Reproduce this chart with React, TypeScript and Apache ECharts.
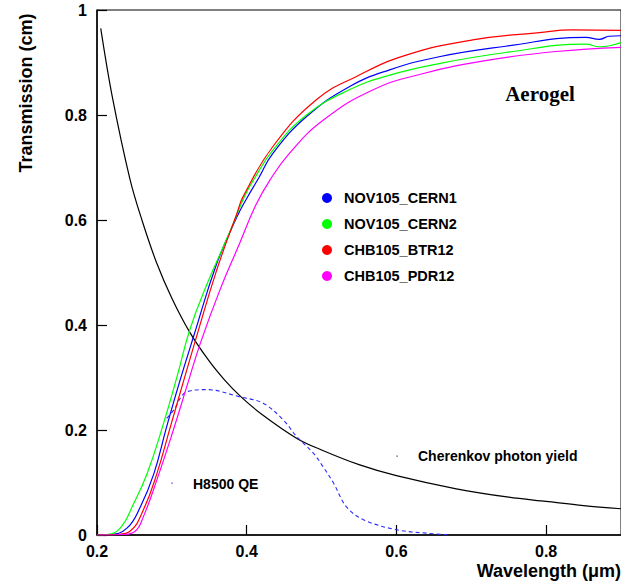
import React, { useEffect, useRef } from "react";
import * as echarts from "echarts";

// Aerogel transmission curves: [wavelength (um), transmission]
const nov105Cern1: [number, number][] = [
  [0.2, 0], [0.218, 0.001], [0.24, 0.013], [0.258, 0.054], [0.276, 0.117], [0.293, 0.206],
  [0.311, 0.295], [0.329, 0.378], [0.36, 0.517], [0.387, 0.606], [0.4, 0.641], [0.416, 0.68],
  [0.435, 0.727], [0.48, 0.797], [0.537, 0.854], [0.591, 0.886], [0.657, 0.911], [0.746, 0.931],
  [0.853, 0.948], [0.871, 0.944], [0.884, 0.95], [0.9, 0.951],
];
const nov105Cern2: [number, number][] = [
  [0.2, 0], [0.213, 0.001], [0.231, 0.013], [0.249, 0.06], [0.267, 0.117], [0.289, 0.213],
  [0.307, 0.302], [0.324, 0.391], [0.347, 0.478], [0.369, 0.55], [0.384, 0.6], [0.397, 0.645],
  [0.409, 0.676], [0.435, 0.733], [0.48, 0.8], [0.537, 0.848], [0.591, 0.876], [0.657, 0.898],
  [0.746, 0.919], [0.853, 0.935], [0.871, 0.93], [0.9, 0.938],
];
const chb105Btr12: [number, number][] = [
  [0.2, 0], [0.227, 0.001], [0.244, 0.007], [0.262, 0.048], [0.28, 0.117], [0.298, 0.206],
  [0.316, 0.295], [0.333, 0.378], [0.36, 0.505], [0.387, 0.613], [0.395, 0.644], [0.435, 0.74],
  [0.493, 0.829], [0.546, 0.873], [0.613, 0.914], [0.702, 0.943], [0.791, 0.957], [0.835, 0.962],
  [0.9, 0.961],
];
const chb105Pdr12: [number, number][] = [
  [0.2, 0], [0.236, 0.001], [0.251, 0.007], [0.262, 0.035], [0.28, 0.105], [0.302, 0.2],
  [0.32, 0.283], [0.338, 0.365], [0.364, 0.466], [0.391, 0.557], [0.412, 0.628], [0.431, 0.676],
  [0.457, 0.727], [0.502, 0.79], [0.569, 0.848], [0.636, 0.879], [0.725, 0.905], [0.813, 0.921],
  [0.9, 0.929],
];
// Cherenkov photon yield (arbitrary units)
const cherenkovYield: [number, number][] = [
  [0.205, 0.965], [0.22, 0.838], [0.244, 0.678], [0.26, 0.6], [0.28, 0.517], [0.3, 0.451],
  [0.324, 0.386], [0.35, 0.331], [0.37, 0.296], [0.391, 0.265], [0.42, 0.23], [0.467, 0.184],
  [0.5, 0.162], [0.55, 0.134], [0.6, 0.113], [0.68, 0.088], [0.75, 0.072], [0.8, 0.064],
  [0.85, 0.056], [0.9, 0.05],
];
// H8500 quantum efficiency
const h8500QE: [number, number][] = [
  [0.293, 0.222], [0.304, 0.241], [0.311, 0.26], [0.32, 0.273], [0.347, 0.277], [0.391, 0.263],
  [0.422, 0.251], [0.449, 0.219], [0.467, 0.187], [0.489, 0.156], [0.502, 0.13], [0.516, 0.099],
  [0.533, 0.054], [0.556, 0.029], [0.6, 0.01], [0.644, 0.003], [0.67, 0],
];

const legendNames = ["NOV105_CERN1", "NOV105_CERN2", "CHB105_BTR12", "CHB105_PDR12"];
const legendColors = ["#0000ff", "#00ff00", "#ff0000", "#ff00ff"];

const SANS = "'Liberation Sans', Arial, Helvetica, sans-serif";
const SERIF = "'Liberation Serif', 'Times New Roman', serif";

export default function App() {
  const ref = useRef<HTMLDivElement>(null);
  useEffect(() => {
    document.body.style.margin = "0";
    const chart = echarts.init(ref.current!, null, { renderer: "svg" });
    const curves = [nov105Cern1, nov105Cern2, chb105Btr12, chb105Pdr12];
    const colorSeries = curves.map((d, i) => ({
      name: legendNames[i],
      type: "line",
      data: d,
      showSymbol: false,
      smooth: 0.45,
      itemStyle: { color: legendColors[i] },
      lineStyle: { color: legendColors[i], width: 1.2 },
      z: 3,
    }));
    chart.setOption({
      animation: false,
      grid: {
        left: 97, top: 10, width: 525, height: 525,
        show: true, borderColor: "#000", borderWidth: 1, backgroundColor: "transparent",
      },
      xAxis: {
        type: "value", min: 0.2, max: 0.9, interval: 0.2,
        axisLine: { lineStyle: { color: "#000", width: 1.5 } },
        axisTick: { inside: true, length: 10, lineStyle: { color: "#000", width: 1.2 } },
        splitLine: { show: false },
        axisLabel: {
          showMaxLabel: false, margin: 8, color: "#000", fontFamily: SANS, fontWeight: "bold", fontSize: 16,
          formatter: (v: number) => (v > 0.85 ? "" : String(Math.round(v * 10) / 10)),
        },
      },
      yAxis: {
        type: "value", min: 0, max: 1, interval: 0.2,
        axisLine: { lineStyle: { color: "#000", width: 1.5 } },
        axisTick: { inside: true, length: 10, lineStyle: { color: "#000", width: 1.2 } },
        splitLine: { show: false },
        axisLabel: {
          margin: 10, color: "#000", fontFamily: SANS, fontWeight: "bold", fontSize: 16,
          formatter: (v: number) => String(Math.round(v * 10) / 10),
        },
      },
      legend: {
        data: legendNames,
        orient: "vertical",
        left: 317, top: 185,
        icon: "circle", itemWidth: 10, itemHeight: 10, itemGap: 10,
        selectedMode: false,
        textStyle: { color: "#000", fontFamily: SANS, fontWeight: "bold", fontSize: 14.5, lineHeight: 16, padding: [0, 0, 0, 7] },
      },
      series: [
        ...colorSeries,
        {
          name: "Cherenkov photon yield", type: "line", data: cherenkovYield, showSymbol: false,
          smooth: 0.35,
          lineStyle: { color: "#000", width: 1.2 }, itemStyle: { color: "#000" }, z: 2,
        },
        {
          name: "H8500 QE", type: "line", data: h8500QE, showSymbol: false,
          smooth: 0.35,
          lineStyle: { color: "#2a2aff", width: 1.1, type: [4, 3] }, itemStyle: { color: "#2a2aff" }, z: 2,
        },
      ],
      graphic: [
        {
          type: "text", x: 26, y: 93, rotation: Math.PI / 2,
          style: { text: "Transmission (cm)", fill: "#000", font: `bold 18px ${SANS}`, align: "center", verticalAlign: "middle" },
        },
        {
          type: "text", x: 621, y: 571,
          style: { text: "Wavelength (\u03bcm)", fill: "#000", font: `bold 18px ${SANS}`, align: "right", verticalAlign: "middle" },
        },
        {
          type: "text", x: 540, y: 94,
          style: { text: "Aerogel", fill: "#000", font: `bold 21px ${SERIF}`, align: "center", verticalAlign: "middle" },
        },
        {
          type: "text", x: 193, y: 484,
          style: { text: "H8500 QE", fill: "#000", font: `bold 14px ${SANS}`, align: "left", verticalAlign: "middle" },
        },
        {
          type: "text", x: 418, y: 456,
          style: { text: "Cherenkov photon yield", fill: "#000", font: `bold 14px ${SANS}`, align: "left", verticalAlign: "middle" },
        },
        { type: "rect", shape: { x: 171.5, y: 482.5, width: 1.2, height: 1.2 }, style: { fill: "#2a2aff" } },
        { type: "rect", shape: { x: 396.5, y: 455.5, width: 1.2, height: 1.2 }, style: { fill: "#333" } },
      ],
    });
    return () => chart.dispose();
  }, []);
  return <div ref={ref} style={{ width: 621, height: 582 }} />;
}
